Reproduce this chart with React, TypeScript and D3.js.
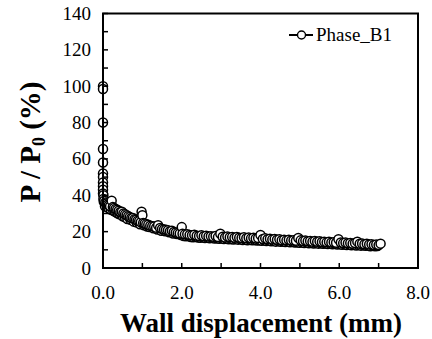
import React from "react";
import * as d3 from "d3";

const xTicksMajor = [0, 2, 4, 6, 8];
const xTicksMinor = [0, 1, 2, 3, 4, 5, 6, 7, 8];
const yTicksMajor = [0, 20, 40, 60, 80, 100, 120, 140];
const yTicksMinor = [0, 10, 20, 30, 40, 50, 60, 70, 80, 90, 100, 110, 120, 130, 140];
const seriesName = "Phase_B1";

const dispX = [
  0, 0, 0, 0, 0, 0, 0, 0, 0, 0, 0, 0.01, 0.01, 0.02,
  0.03, 0.06, 0.09, 0.12, 0.15, 0.18, 0.22, 0.25, 0.28, 0.32, 0.36, 0.4, 0.44, 0.48,
  0.52, 0.56, 0.6, 0.64, 0.68, 0.72, 0.76, 0.8, 0.84, 0.88, 0.92, 0.96, 0.98, 1.0,
  1.02, 1.06, 1.1, 1.15, 1.2, 1.25, 1.3, 1.35, 1.4, 1.45, 1.5, 1.55, 1.6, 1.65,
  1.7, 1.75, 1.8, 1.85, 1.9, 1.95, 2.0, 2.02, 2.08, 2.14, 2.2, 2.26, 2.32, 2.38,
  2.44, 2.5, 2.56, 2.62, 2.68, 2.74, 2.8, 2.86, 2.92, 2.98, 3.04, 3.1, 3.16, 3.22,
  3.28, 3.34, 3.4, 3.46, 3.52, 3.58, 3.64, 3.7, 3.76, 3.82, 3.88, 3.94, 4.0, 4.06,
  4.12, 4.18, 4.24, 4.3, 4.36, 4.42, 4.48, 4.54, 4.6, 4.66, 4.72, 4.78, 4.84, 4.9,
  4.96, 5.02, 5.08, 5.14, 5.2, 5.26, 5.32, 5.38, 5.44, 5.5, 5.56, 5.62, 5.68, 5.74,
  5.8, 5.86, 5.92, 5.98, 6.04, 6.1, 6.16, 6.22, 6.28, 6.34, 6.4, 6.46, 6.52, 6.58,
  6.64, 6.7, 6.76, 6.82, 6.88, 6.94, 7.0, 7.05,
];
const pressureY = [
  100, 98.5, 80, 65.5, 58, 52, 50, 47, 45, 43, 41, 40, 38, 36.5,
  37, 36, 35.5, 35, 34.5, 34, 37, 33.5, 33, 32.5, 32, 31.5, 30.8, 31,
  30, 29.5, 29, 28.5, 28, 27.5, 27.5, 26.8, 26.5, 26, 25.8, 25.2, 31, 29,
  24.8, 24.5, 24, 23.8, 23.2, 23, 22.8, 22.2, 23.5, 22, 21.5, 21.2, 21, 20.8,
  20.2, 20.5, 19.8, 19.5, 19.2, 19, 22.5, 18.8, 18.5, 18.6, 18.2, 18, 18.3, 17.8,
  17.6, 18, 17.5, 17.8, 17.3, 17.5, 17.2, 17.6, 17, 18.8, 17.2, 16.8, 17.3, 16.9,
  17, 16.6, 17.1, 16.7, 16.5, 16.9, 16.4, 16.8, 16.3, 16.6, 16.2, 16.5, 18.2, 16,
  16.3, 15.8, 16.1, 15.7, 15.9, 15.5, 15.8, 15.3, 15.6, 15.2, 15.5, 15.1, 15.3, 15,
  16.5, 15.2, 14.8, 15.1, 14.7, 14.9, 14.5, 14.8, 14.4, 14.7, 14.3, 14.5, 14.1, 14.4,
  14, 14.2, 13.9, 15.8, 14, 13.7, 14, 13.6, 13.8, 13.4, 13.7, 14.5, 13.3, 13.5,
  13.1, 13.3, 12.9, 13.1, 12.7, 12.9, 12.6, 13.4,
];

// second, interleaved batch of readings (lower/upper edge of the band)
const dispX2 = [
  0.05, 0.1, 0.14, 0.2, 0.26, 0.3, 0.34, 0.38, 0.42, 0.46, 0.5, 0.55, 0.62, 0.7,
  0.78, 0.86, 0.94, 1.04, 1.12, 1.18, 1.28, 1.38, 1.48, 1.58, 1.68, 1.78, 1.88, 1.98,
  2.05, 2.11, 2.17, 2.23, 2.29, 2.35, 2.41, 2.47, 2.53, 2.59, 2.65, 2.71, 2.77, 2.83,
  2.89, 2.95, 3.01, 3.07, 3.13, 3.19, 3.25, 3.31, 3.37, 3.43, 3.49, 3.55, 3.61, 3.67,
  3.73, 3.79, 3.85, 3.91, 3.97, 4.03, 4.09, 4.15, 4.21, 4.27, 4.33, 4.39, 4.45, 4.51,
  4.57, 4.63, 4.69, 4.75, 4.81, 4.87, 4.93, 4.99, 5.05, 5.11, 5.17, 5.23, 5.29, 5.35,
  5.41, 5.47, 5.53, 5.59, 5.65, 5.71, 5.77, 5.83, 5.89, 5.95, 6.01, 6.07, 6.13, 6.19,
  6.25, 6.31, 6.37, 6.43, 6.49, 6.55, 6.61, 6.67, 6.73, 6.79, 6.85, 6.91, 6.97,
];
const pressureY2 = [
  34, 33.5, 33, 32, 31.5, 31, 30.5, 30, 29.5, 29.5, 28.5, 28, 27, 26.5,
  25.5, 25, 24, 23.5, 22.8, 22.5, 21.8, 21.2, 20.5, 20.2, 19.6, 19, 18.7, 18.2,
  17.6, 17.4, 17.6, 17.1, 16.9, 17.2, 16.8, 16.6, 16.9, 16.5, 16.7, 16.3, 16.6, 16.2,
  16.4, 16.1, 16.3, 15.9, 16.2, 15.8, 16, 15.7, 15.9, 15.6, 15.8, 15.4, 15.7, 15.3,
  15.6, 15.2, 15.4, 15.1, 15.3, 15, 15.2, 14.8, 15, 14.7, 14.9, 14.5, 14.8, 14.4,
  14.6, 14.3, 14.5, 14.1, 14.4, 14, 14.2, 13.9, 14.1, 13.8, 14, 13.6, 13.9, 13.5,
  13.7, 13.4, 13.6, 13.3, 13.5, 13.2, 13.4, 13, 13.3, 12.9, 13.2, 12.8, 13, 12.7,
  12.9, 12.5, 12.8, 12.4, 12.6, 12.3, 12.5, 12.2, 12.4, 12, 12.3, 11.9, 12.1,
];

export default function App() {
  const W = 432, H = 339;
  const left = 103, right = 418, top = 13.5, bottom = 268;
  const x = d3.scaleLinear().domain([0, 8]).range([left, right]);
  const y = d3.scaleLinear().domain([0, 140]).range([bottom, top]);
  const ts = { fontFamily: "\"Liberation Serif\"" };
  const pts = [
    ...dispX2.map((d, i) => [d, pressureY2[i]] as [number, number]),
    ...dispX.map((d, i) => [d, pressureY[i]] as [number, number]),
  ];
  const r = 4.5;
  return (
    <svg width={W} height={H} style={{ position: "absolute", left: 0, top: 0, background: "#fff" }}>
      <rect x={0} y={0} width={W} height={H} fill="#fff" />
      <g>
        {pts.map((p, i) => (
          <circle key={i} cx={x(p[0])} cy={y(p[1])} r={r} fill="#fff" stroke="#000" strokeWidth={1.5} />
        ))}
      </g>
      <rect x={left} y={top} width={right - left} height={bottom - top} fill="none" stroke="#000" strokeWidth={2} />
      {xTicksMinor.map((t) => (
        <line key={"xt" + t} x1={x(t)} x2={x(t)} y1={bottom} y2={bottom - 5} stroke="#000" strokeWidth={1.5} />
      ))}
      {yTicksMinor.map((t) => (
        <line key={"yt" + t} x1={left} x2={left + 5} y1={y(t)} y2={y(t)} stroke="#000" strokeWidth={1.5} />
      ))}
      {xTicksMajor.map((t) => (
        <text key={"xl" + t} x={x(t)} y={299} textAnchor="middle" style={ts} fontSize={19} fill="#000">
          {t.toFixed(1)}
        </text>
      ))}
      {yTicksMajor.map((t) => (
        <text key={"yl" + t} x={91} y={y(t) + 6.5} textAnchor="end" style={ts} fontSize={19} fill="#000">
          {t}
        </text>
      ))}
      <text x={261} y={332} textAnchor="middle" style={ts} fontSize={27} fontWeight="bold" fill="#000">
        Wall displacement (mm)
      </text>
      <text transform={`translate(40,142) rotate(-90)`} textAnchor="middle" style={ts} fontSize={29} fontWeight="bold" fill="#000">
        P / P<tspan fontSize={18} dy={5}>0</tspan><tspan dy={-5}> (%)</tspan>
      </text>
      <line x1={289} x2={313} y1={35} y2={35} stroke="#000" strokeWidth={2} />
      <circle cx={301.5} cy={35} r={4} fill="#fff" stroke="#000" strokeWidth={1.4} />
      <text x={316} y={41} style={ts} fontSize={19} fill="#000">
        {seriesName}
      </text>
    </svg>
  );
}
